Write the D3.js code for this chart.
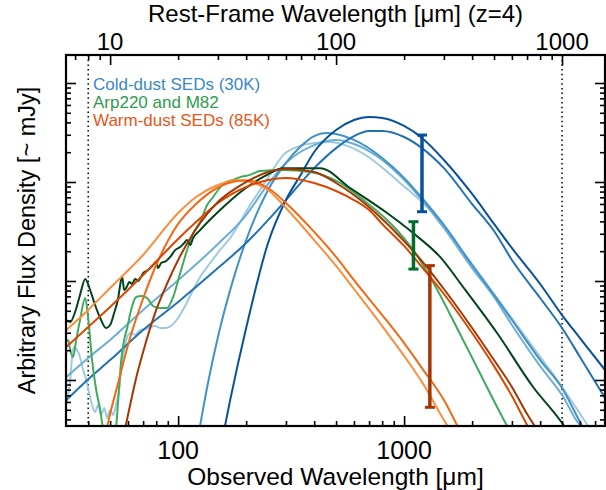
<!DOCTYPE html>
<html><head><meta charset="utf-8">
<script src="https://cdn.jsdelivr.net/npm/d3@7"></script>
<style>
body{margin:0;background:#fff}
svg{display:block}
text{font-family:"Liberation Sans",Arial,Helvetica,sans-serif}
</style>
</head><body><div id="chart"></div>
<script>
// ---------- DATA (observed wavelength in micron, arbitrary flux) ----------
// Cold-dust SEDs (30K)
const c1Wave = [155,170,200,250,300,350,400,500,600,700,800,1000,1200,1500,2000,2500,3000,4000,5000,6000,7750];
const c1Flux = [0.22,0.63,3.35,24.2,65.7,120,201,335,423,454,443,368,278,167,75.7,37.7,21.5,9.33,4.53,2.65,1.26];
const c2Wave = [32,40,50,70,100,150,200,250,300,400,500,600,700,800,1000,1200,1500,2000,2500,3000,4000,5000,6000,7750];
const c2Flux = [0.628,1.02,1.59,3.20,6.14,13.5,24.2,41.2,65.7,138,220,291,327,327,285,220,138,59.9,32.0,16.3,6.73,3.35,1.71,0.658];
const c3Wave = [115,125,135,150,175,200,250,300,350,400,450,500,600,800,1000,1200,1500,2000,2500,3000,4000,5000,6000,7000];
const c3Flux = [0.123,0.343,0.89,2.72,10.2,25.9,82.9,156,231,291,313,305,266,175,110,68.9,36.8,14.5,7.24,4.04,1.59,0.83,0.377,0.196];
const c4Wave = [32,40,50,70,100,150,200,250,300,400,500,600,800,1000,1200,1500,2000,2500,3000,4000,5000,6000,6500];
const c4Flux = [1.07,1.67,2.54,5.10,10.2,23.6,46.4,95.4,156,236,265,242,167,105,65.7,34.3,13.5,6.89,3.59,1.38,0.706,0.351,0.313];
const c5Wave = [31.95,32.6,33.3,34.0,34.7,35.7,36.8,38.0,39.2,40.4,41.6,42.9,44.3,45.6,47.1,48.5,50.0,51.6,53.2,54.8,56.5,58.3,60.1,61.9,64.5,67.9,71.5,75.2,79.1,83.3,88.5,94.1,100,107.4,116.5,125.1,138.6,153.4,169.9,188.1,208.3,230.6,255.4,291.5,346.7,403.9,470.5,548.2,686,824,960,1344,1769,2169,3610,5001,6520];
const c5Flux = [0.559,0.705,1.0,1.79,2.15,2.01,1.71,1.26,1.0,0.739,0.559,0.475,0.559,0.443,0.522,0.413,0.498,0.443,0.572,0.792,1.52,2.26,2.85,2.98,2.85,3.20,3.27,3.43,3.51,3.35,3.35,3.59,4.23,5.59,8.11,11.0,15.2,20.6,27.2,39.4,58.6,83.0,120,187,231,248,254,236,183,132,97.7,48.6,21.5,11.5,2.36,0.85,0.343];
// Arp220 and M82
const g1Wave = [31.95,33.3,35.0,36.8,38.8,40.8,42.9,45.2,48.0,50.0,52.1,54.3,55.4,56.5,57.7,59.5,60.7,62.6,64.5,66.5,70.0,73.7,77.5,79.9,81.6,84.1,88.5,92.2,97.0,102.1,106.3,109.6,113.0,116.5,125.1,153.4,194.0,242.7,291.5,424.9,576.9,841,1096,1443,1824,2579,3723,5001,5427];
const g1Flux = [4.04,3.85,4.86,7.22,10.5,8.11,5.72,4.23,3.35,3.59,4.75,6.73,9.11,11.2,8.11,8.90,9.77,9.33,10.5,10.0,12.0,12.9,14.5,15.6,13.5,15.2,15.9,17.5,20.5,22.0,24.2,25.9,23.1,27.2,32.7,52.1,83.0,115,138,138,87.0,48.6,30.5,17.5,8.70,2.98,0.85,0.368,0.278];
const g2Wave = [31.95,32.6,33.3,34.3,35.4,36.8,38.8,40.0,41.6,43.4,45.2,46.6,48.0,50.0,51.6,53.2,54.3,56.0,57.7,59.5,61.9,65.2,68.6,72.9,77.5,83.3,89.4,95.0,102.1,109.6,116.5,125.1,134.4,142.9,150.3,158.2,166.4,175.1,188.1,208.3,230.6,291.5,383.8,521.2,686,867,1096,1303,1824,2857,3006];
const g2Flux = [2.42,2.54,2.01,1.71,2.54,4.04,6.73,4.23,1.59,0.792,0.498,0.313,0.220,0.196,0.248,0.343,0.628,1.59,2.54,3.35,5.10,6.89,7.05,6.73,5.59,5.34,5.34,6.89,12.0,20.6,30.5,39.4,58.6,70.6,83.0,95.5,102,105,112,118,129,132,126,97.7,61.4,38.5,20.6,11.0,2.54,0.343,0.278];
// Warm-dust SEDs (85K)
const o1Wave = [32,40,50,70,100,120,150,180,200,250,300,400,500,600,800,1000,1200,1500,1700];
const o1Flux = [3.20,5.10,8.50,18.3,48.6,70.6,93.3,104,102,82.9,54.6,25.9,14.2,8.30,3.51,1.75,0.954,0.394,0.248];
const o2Wave = [47,50,55,60,70,80,100,120,150,180,200,250,300,400,500,600,800,1000,1200,1500,1800];
const o2Flux = [0.248,0.454,1.05,2.26,6.66,14.5,37.7,59.9,88.0,102,104,87.0,61.4,31.3,17.5,10.2,4.53,2.36,1.32,0.628,0.278];
const o3Wave = [32,40,50,70,100,120,150,200,250,300,400,500,600,700,800,1000,1200,1500,2000,2500,3000,3500,3700];
const o3Flux = [2.15,3.43,5.47,11.5,26.6,39.4,61.4,89.0,105,110,97.7,81.1,65.7,52.0,37.7,22.6,13.8,7.39,2.98,1.38,0.689,0.351,0.278];
const o4Wave = [55,60,65,70,80,90,100,120,150,200,250,300,400,500,600,800,1000,1200,1500,2000,2500,3000,3500,4000];
const o4Flux = [0.175,0.443,1.02,1.92,5.10,9.77,16.3,33.5,62.8,100,126,135,126,97.7,73.9,42.3,25.3,15.9,8.30,3.35,1.59,0.85,0.454,0.285];
// Error bars
const errWave = [1200, 1100, 1300];
const errLow  = [50.1, 13.2, 0.53];
const errHigh = [298, 39.7, 14.3];
// Dotted reference wavelengths (observed), i.e. rest 8 and 1000 micron at z=4
const refWave = [40, 5000];
const redshift = 4;
// Tick values
const botMajor = [100, 1000];
const botMinor = [40,50,60,70,80,90,200,300,400,500,600,700,800,900,2000,3000,4000,5000,6000,7000];
const topMajor = [10, 100, 1000];
const topMinor = [7,8,9,20,30,40,50,60,70,80,90,200,300,400,500,600,700,800,900];
const yMajor = [1, 10, 100, 1000];
const yMinor = [0.4,0.5,0.6,0.7,0.8,0.9,2,3,4,5,6,7,8,9,20,30,40,50,60,70,80,90,200,300,400,500,600,700,800,900];
const legendLabels = ["Cold-dust SEDs (30K)", "Arp220 and M82", "Warm-dust SEDs (85K)"];

// ---------- CHART ----------
const W = 606, H = 490;
const L = 66, R = 605, T = 55, B = 426;
const svg = d3.select("#chart").append("svg").attr("width", W).attr("height", H);

const x = d3.scaleLog().domain([31.9, 7745]).range([L, R]);
const xRest = d3.scaleLog().domain([31.9 / (1 + redshift), 7745 / (1 + redshift)]).range([L, R]);
const y = d3.scaleLog().domain([0.343, 1918]).range([B, T]);

svg.append("defs").append("clipPath").attr("id", "clip")
  .append("rect").attr("x", L).attr("y", T).attr("width", R - L).attr("height", B - T);

const plot = svg.append("g").attr("clip-path", "url(#clip)");

// dotted lines
plot.selectAll("line.ref").data(refWave).enter().append("line")
  .attr("x1", d => x(d)).attr("x2", d => x(d)).attr("y1", T).attr("y2", B)
  .attr("stroke", "#000").attr("stroke-width", 1.5).attr("stroke-dasharray", "1.5,3.2");

const series = [
  {w: c5Wave, f: c5Flux, c: "#9ecae1"},
  {w: c4Wave, f: c4Flux, c: "#6baed6"},
  {w: c3Wave, f: c3Flux, c: "#4292c6"},
  {w: c2Wave, f: c2Flux, c: "#2171b5"},
  {w: c1Wave, f: c1Flux, c: "#08519c"},
  {w: g2Wave, f: g2Flux, c: "#41ab5d"},
  {w: g1Wave, f: g1Flux, c: "#00441b"},
  {w: o1Wave, f: o1Flux, c: "#fd8d3c"},
  {w: o2Wave, f: o2Flux, c: "#f16913"},
  {w: o3Wave, f: o3Flux, c: "#d94801"},
  {w: o4Wave, f: o4Flux, c: "#a63603"}
];
const line = d3.line().x(d => x(d[0])).y(d => y(d[1])).curve(d3.curveMonotoneX);
series.forEach(s => {
  plot.append("path").datum(s.w.map((w, i) => [w, s.f[i]]))
    .attr("d", line).attr("fill", "none").attr("stroke", s.c).attr("stroke-width", 2);
});

// error bars
const errColors = ["#08519c", "#006d2c", "#a63603"];
const eb = svg.append("g");
errWave.forEach((w, i) => {
  const g = eb.append("g").attr("stroke", errColors[i]).attr("stroke-width", 3.5);
  g.append("line").attr("x1", x(w)).attr("x2", x(w)).attr("y1", y(errLow[i])).attr("y2", y(errHigh[i]));
  g.append("line").attr("x1", x(w) - 5).attr("x2", x(w) + 5).attr("y1", y(errLow[i])).attr("y2", y(errLow[i])).attr("stroke-width", 3);
  g.append("line").attr("x1", x(w) - 5).attr("x2", x(w) + 5).attr("y1", y(errHigh[i])).attr("y2", y(errHigh[i])).attr("stroke-width", 3);
});

// axes (ticks inward)
function drawAxis(gen, tr) {
  svg.append("g").attr("transform", tr).call(gen).call(g => {
    g.select(".domain").remove();
    g.selectAll("text").remove();
    g.selectAll("line").attr("stroke", "#000").attr("stroke-width", 1.6);
  });
}
drawAxis(d3.axisBottom(x).tickValues(botMajor).tickSize(-10), `translate(0,${B})`);
drawAxis(d3.axisBottom(x).tickValues(botMinor).tickSize(-5), `translate(0,${B})`);
drawAxis(d3.axisTop(xRest).tickValues(topMajor).tickSize(-10), `translate(0,${T})`);
drawAxis(d3.axisTop(xRest).tickValues(topMinor).tickSize(-5), `translate(0,${T})`);
drawAxis(d3.axisLeft(y).tickValues(yMajor).tickSize(-10), `translate(${L},0)`);
drawAxis(d3.axisLeft(y).tickValues(yMinor).tickSize(-5), `translate(${L},0)`);
drawAxis(d3.axisRight(y).tickValues(yMajor).tickSize(-10), `translate(${R},0)`);
drawAxis(d3.axisRight(y).tickValues(yMinor).tickSize(-5), `translate(${R},0)`);

svg.append("rect").attr("x", L).attr("y", T).attr("width", R - L).attr("height", B - T)
  .attr("fill", "none").attr("stroke", "#000").attr("stroke-width", 2.2);

// tick labels
svg.selectAll("text.bl").data(botMajor).enter().append("text")
  .attr("x", d => x(d)).attr("y", 459).attr("text-anchor", "middle")
  .attr("font-size", 25).text(d => d);
svg.selectAll("text.tl").data(topMajor).enter().append("text")
  .attr("x", d => xRest(d)).attr("y", 49.5).attr("text-anchor", "middle")
  .attr("font-size", 24).text(d => d);

// axis titles
svg.append("text").attr("x", (L + R) / 2).attr("y", 485).attr("text-anchor", "middle")
  .attr("font-size", 24.5).text("Observed Wavelength [\u03bcm]");
svg.append("text").attr("x", (L + R) / 2).attr("y", 22).attr("text-anchor", "middle")
  .attr("font-size", 24).text("Rest-Frame Wavelength [\u03bcm] (z=4)");
svg.append("text").attr("transform", `translate(35,${(T + B) / 2}) rotate(-90)`)
  .attr("text-anchor", "middle").attr("font-size", 23.5).text("Arbitrary Flux Density [~ mJy]");

// legend
const legColors = ["#3a87c8", "#2e9a4c", "#e6561a"];
svg.selectAll("text.leg").data(legendLabels).enter().append("text")
  .attr("x", 93).attr("y", (d, i) => 90 + i * 18)
  .attr("font-size", 17).attr("fill", (d, i) => legColors[i]).text(d => d);
</script>
</body></html>
